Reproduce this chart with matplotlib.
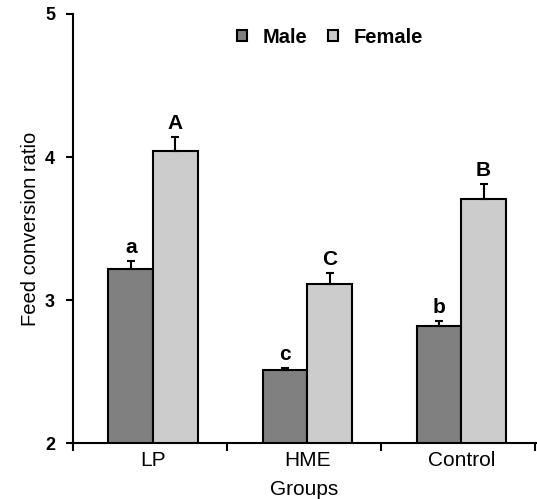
import numpy as np
import matplotlib.pyplot as plt
from matplotlib.patches import Patch

groups = ['LP', 'HME', 'Control']
male = [3.22, 2.51, 2.82]
female = [4.04, 3.11, 3.71]
male_err = [0.05, 0.015, 0.035]
female_err = [0.10, 0.08, 0.10]
male_letters = ['a', 'c', 'b']
female_letters = ['A', 'C', 'B']

plt.rcParams['font.family'] = ['Liberation Sans', 'DejaVu Sans']

fig = plt.figure(figsize=(5.37, 4.99), dpi=100)
ax = fig.add_axes([0.136, 0.112, 0.862, 0.86])

x = np.arange(len(groups)) + 0.02
w = 0.29
off = 0.145
ekw = dict(ecolor='black', elinewidth=1.5, capsize=2.6, capthick=1.5)
ax.bar(x - off, male, w, color='#808080', edgecolor='black', linewidth=1.5,
       yerr=[np.zeros(3), male_err], error_kw=ekw)
ax.bar(x + off, female, w, color='#cccccc', edgecolor='black', linewidth=1.5,
       yerr=[np.zeros(3), female_err], error_kw=ekw)

for i in range(3):
    ax.text(x[i] - off, male[i] + male_err[i] + 0.03, male_letters[i], ha='center', va='bottom',
            fontsize=15, fontweight='bold')
    ax.text(x[i] + off, female[i] + female_err[i] + 0.03, female_letters[i], ha='center', va='bottom',
            fontsize=15, fontweight='bold')

ax.set_ylim(2, 5)
ax.set_xlim(-0.5, 2.505)
ax.set_yticks([2, 3, 4, 5])
ax.tick_params(axis='y', labelsize=13, length=5, width=1.5, direction='out', pad=8)
for lab in ax.get_yticklabels():
    lab.set_fontweight('bold')

ax.set_xticks([-0.5, 0.5, 1.5, 2.5])
ax.set_xticklabels([])
ax.tick_params(axis='x', which='major', length=6, width=1.5, direction='out')
ax.set_xticks(x, minor=True)
ax.set_xticklabels(groups, minor=True, fontsize=15)
ax.tick_params(axis='x', which='minor', length=0, pad=6)

ax.spines['top'].set_visible(False)
ax.spines['right'].set_visible(False)
ax.spines['left'].set_linewidth(1.5)
ax.spines['bottom'].set_linewidth(1.5)

ax.set_xlabel('Groups', fontsize=15)
ax.xaxis.set_label_coords(0.5, -0.087)
ax.xaxis.label.set_verticalalignment('top')
ax.set_ylabel('Feed conversion ratio', fontsize=14.5)
ax.yaxis.set_label_coords(-0.072, 0.5)

handles = [Patch(facecolor='#808080', edgecolor='black', linewidth=1.5),
           Patch(facecolor='#cccccc', edgecolor='black', linewidth=1.5)]
ax.legend(handles, ['Male', 'Female'], loc='upper center', bbox_to_anchor=(0.555, 1.01), ncol=2,
          frameon=False, prop={'size': 14.5, 'weight': 'bold'}, handlelength=0.5, handleheight=0.5,
          handletextpad=0.8, columnspacing=1.0)

fig.savefig('out.png', dpi=100)
